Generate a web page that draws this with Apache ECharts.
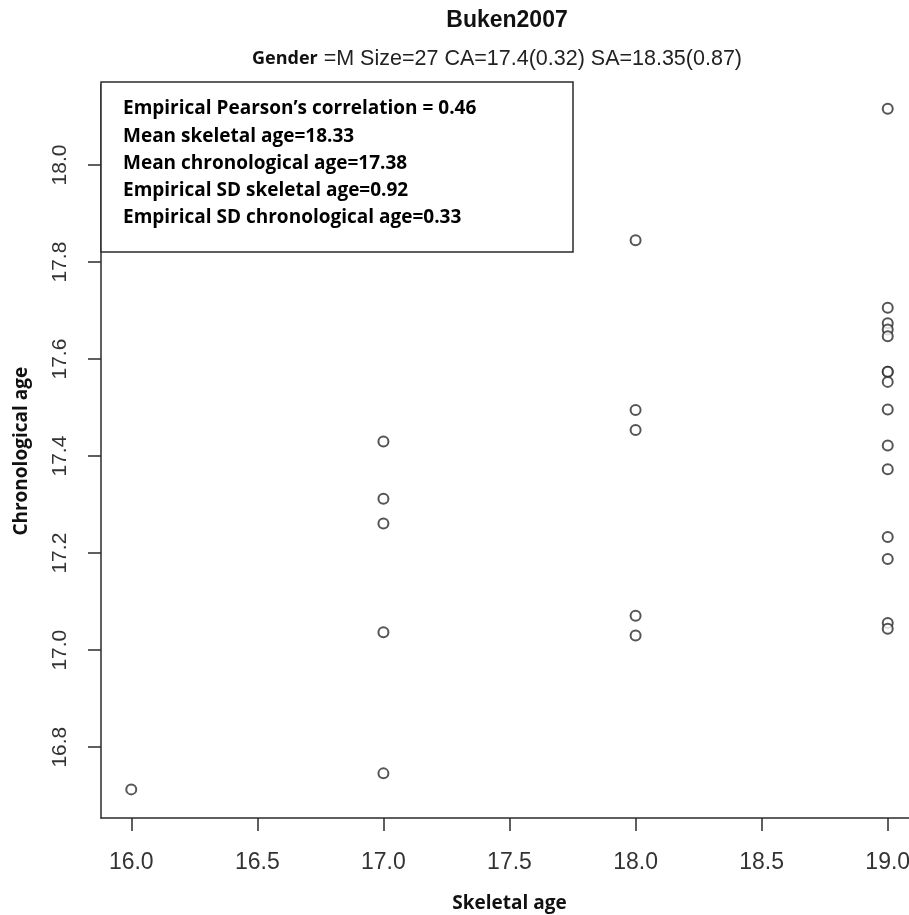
<!DOCTYPE html>
<html>
<head>
<meta charset="utf-8">
<script src="https://cdn.jsdelivr.net/npm/echarts@6/dist/echarts.min.js"></script>
<style>
html,body{margin:0;padding:0;background:#fff;}
#chart{width:909px;height:915px;}
</style>
</head>
<body>
<div id="chart"></div>
<script>
// ---- data ----
const skeletalAge = [16,
  17, 17, 17, 17, 17,
  18, 18, 18, 18, 18,
  19, 19, 19, 19, 19, 19, 19, 19, 19, 19, 19, 19, 19, 19, 19];
const chronologicalAge = [16.713,
  17.430, 17.312, 17.261, 17.037, 16.746,
  17.845, 17.495, 17.454, 17.071, 17.030,
  18.116, 17.706, 17.674, 17.661, 17.647, 17.574, 17.574, 17.553, 17.496, 17.422, 17.373, 17.233, 17.188, 17.056, 17.044];
const xTicks = [16.0, 16.5, 17.0, 17.5, 18.0, 18.5, 19.0];
const yTicks = [16.8, 17.0, 17.2, 17.4, 17.6, 17.8, 18.0];
const titleText = 'Buken2007';
const subtitleBold = 'Gender';
const subtitleRest = ' =M Size=27 CA=17.4(0.32) SA=18.35(0.87)';
const boxLines = [
  'Empirical Pearson\u2019s correlation = 0.46',
  'Mean skeletal age=18.33',
  'Mean chronological age=17.38',
  'Empirical SD skeletal age=0.92',
  'Empirical SD chronological age=0.33'
];
const xName = 'Skeletal age';
const yName = 'Chronological age';

const points = skeletalAge.map((x, i) => [x, chronologicalAge[i]]);

const chart = echarts.init(document.getElementById('chart'), null, {renderer: 'canvas'});
const axisColor = '#2b2b2b';
const labelColor = '#333';
const boldFont = 'Open Sans';

chart.setOption({
  animation: false,
  backgroundColor: '#fff',
  grid: {left: 101, top: 84.5, width: 817, height: 733.5, containLabel: false, outerBoundsMode: 'none'},
  xAxis: {
    type: 'value', min: 15.88, max: 19.12,
    name: xName, nameLocation: 'middle', nameGap: 76,
    nameTextStyle: {fontFamily: boldFont, fontWeight: 'bold', fontSize: 19, color: '#111'},
    axisLine: {show: true, lineStyle: {color: axisColor, width: 1.5}},
    axisTick: {show: true, length: 13, customValues: xTicks, lineStyle: {color: axisColor, width: 1.5}},
    axisLabel: {customValues: xTicks, margin: 33, fontFamily: 'Liberation Sans', fontSize: 23, color: labelColor,
      hideOverlap: false, formatter: v => v.toFixed(1)},
    splitLine: {show: false}
  },
  yAxis: {
    type: 'value', min: 16.654, max: 18.166,
    name: yName, nameLocation: 'middle', nameGap: 70,
    nameTextStyle: {fontFamily: boldFont, fontWeight: 'bold', fontSize: 19, color: '#111'},
    axisLine: {show: true, lineStyle: {color: axisColor, width: 1.5}},
    axisTick: {show: true, length: 13, customValues: yTicks, lineStyle: {color: axisColor, width: 1.5}},
    axisLabel: {customValues: yTicks, margin: 30, rotate: 90, fontFamily: 'Liberation Sans', fontSize: 21, color: labelColor,
      formatter: v => v.toFixed(1)},
    splitLine: {show: false}
  },
  graphic: [
    {type: 'text', x: 507, y: 21, style: {text: titleText, fontFamily: 'Liberation Sans', fontWeight: 'bold', fontSize: 23,
      fill: '#111', align: 'center', verticalAlign: 'middle'}},
    {type: 'text', x: 497, y: 59, style: {
      text: '{b|' + subtitleBold + '}{r|' + subtitleRest + '}',
      align: 'center', verticalAlign: 'middle',
      rich: {
        b: {fontFamily: boldFont, fontWeight: 'bold', fontSize: 18, fill: '#111'},
        r: {fontFamily: 'Liberation Sans', fontSize: 21.5, fill: '#222'}
      }}},
    {type: 'rect', shape: {x: 101, y: 82, width: 472, height: 170},
      style: {fill: '#fff', stroke: axisColor, lineWidth: 1.5}, z: 10},
    {type: 'text', x: 123, y: 95.4, z: 11, style: {
      text: boxLines.join('\n'), fontFamily: boldFont, fontWeight: 'bold', fontSize: 19, lineHeight: 27.2,
      fill: '#000', verticalAlign: 'top'}}
  ],
  series: [{
    type: 'scatter',
    data: points,
    symbol: 'emptyCircle',
    symbolSize: 10,
    itemStyle: {color: '#2a2a2a', borderColor: '#2a2a2a', borderWidth: 1.6},
    z: 5
  }]
});
</script>
</body>
</html>
